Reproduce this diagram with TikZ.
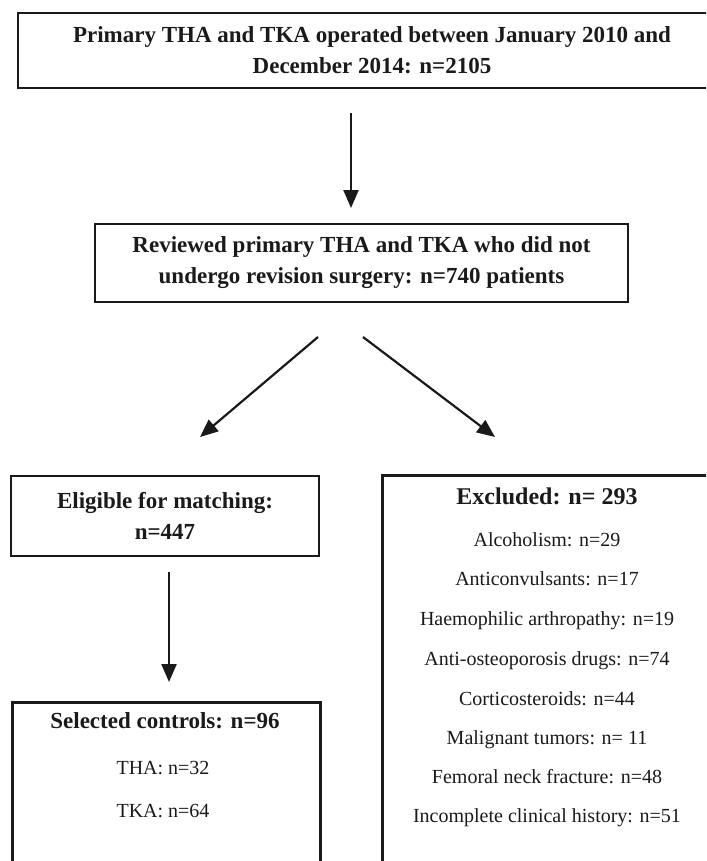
\documentclass[tikz,border=0pt]{standalone}
\usepackage{fontspec}
\setmainfont{Liberation Serif}
\usetikzlibrary{arrows.meta}
\definecolor{ink}{HTML}{1A1A1A}
\begin{document}
\begin{tikzpicture}[x=1pt,y=-1pt,
  box/.style={draw=ink, line width=2.6pt, rectangle, inner sep=0pt, align=center},
  bt/.style={font=\fontsize{23}{31}\selectfont\bfseries, text=ink, align=center},
  rt/.style={font=\fontsize{20}{24}\selectfont, text=ink, text height=14pt, text depth=4pt, inner sep=0pt},
  bl/.style={bt, text height=16pt, text depth=5pt, inner sep=0pt},
  arr/.style={draw=ink, line width=2.2pt, -{Triangle[length=18pt,width=15pt]}}]
\useasboundingbox (0,0) rectangle (706,861);
\fill[white] (0,0) rectangle (706,861);
\begin{scope}
\clip (0,0) rectangle (706,861);
% boxes
\node[box, bt, minimum width=708pt, minimum height=75pt] (top) at (372,50.5)
  {Primary THA and TKA operated between January 2010 and\\December 2014: n=2105};
\node[box, bt, minimum width=533pt, minimum height=78pt] (rev) at (361.5,263)
  {Reviewed primary THA and TKA who did not\\undergo revision surgery: n=740 patients};
\node[box, bt, minimum width=308pt, minimum height=80pt] (elig) at (165,516)
  {Eligible for matching:\\n=447};
\node[box, minimum width=332pt, minimum height=460pt, anchor=north west] (excl) at (381,474) {};
\node[box, minimum width=308pt, minimum height=260pt, anchor=north west] (sel) at (11,701) {};
% excluded texts
\node[bl, font=\fontsize{24}{30}\selectfont\bfseries] (exT) at (547,499) {Excluded: n= 293};
\node[rt] (ex1) at (547,541) {Alcoholism: n=29};
\node[rt] (ex2) at (547,580) {Anticonvulsants: n=17};
\node[rt] (ex3) at (547,620) {Haemophilic arthropathy: n=19};
\node[rt] (ex4) at (547,660) {Anti-osteoporosis drugs: n=74};
\node[rt] (ex5) at (547,700) {Corticosteroids: n=44};
\node[rt] (ex6) at (547,739) {Malignant tumors: n= 11};
\node[rt] (ex7) at (547,778) {Femoral neck fracture: n=48};
\node[rt] (ex8) at (547,817) {Incomplete clinical history: n=51};
% selected texts
\node[bl] (selT) at (165,723) {Selected controls: n=96};
\node[rt] (tha) at (163,769) {THA: n=32};
\node[rt] (tka) at (163,812) {TKA: n=64};
% arrows
\coordinate (a1s) at (351,113); \coordinate (a1e) at (351,208);
\coordinate (a2s) at (318,337); \coordinate (a2e) at (200,437);
\coordinate (a3s) at (363,337); \coordinate (a3e) at (495,437);
\coordinate (a4s) at (169,572); \coordinate (a4e) at (169,682);
\draw[arr] (a1s) -- (a1e);
\draw[arr] (a2s) -- (a2e);
\draw[arr] (a3s) -- (a3e);
\draw[arr] (a4s) -- (a4e);
\end{scope}
\end{tikzpicture}
\end{document}
